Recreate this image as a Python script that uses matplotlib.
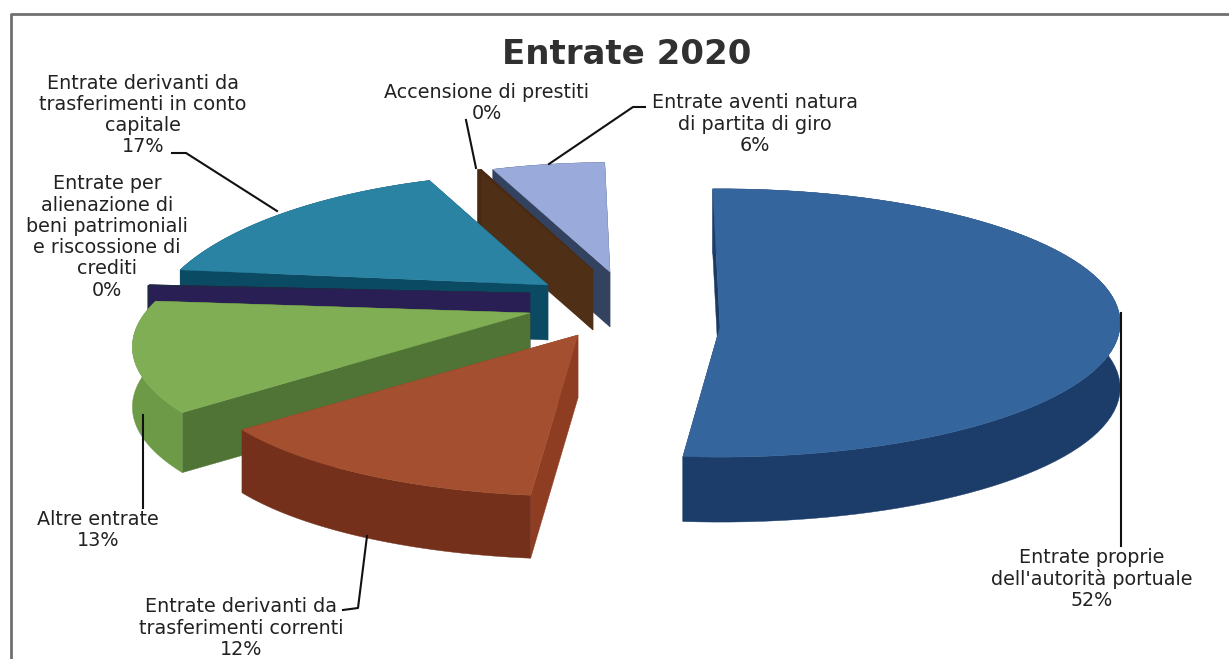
import numpy as np
import matplotlib
matplotlib.use("Agg")
from matplotlib import pyplot as plt

# data, clockwise from the top of the pie
categories = ["Entrate proprie\ndell'autorità portuale",
              "Entrate derivanti da\ntrasferimenti correnti",
              "Altre entrate",
              "Entrate per\nalienazione di\nbeni patrimoniali\ne riscossione di\ncrediti",
              "Entrate derivanti da\ntrasferimenti in conto\ncapitale",
              "Accensione di prestiti",
              "Entrate aventi natura\ndi partita di giro"]
values = [51.8, 12.1, 12.9, 0.2, 16.8, 0.2, 6.0]
percent = ["52%", "12%", "13%", "0%", "17%", "0%", "6%"]

# look of the slices
top_colors = ["#35659d", "#a44f2f", "#7fae54", "#1f2a45", "#2a83a3", "#4a2a12", "#9aabdb"]
rim_colors = ["#1c3d69", "#74301a", "#6d9a47", "#1f2a45", "#0b4a63", "#4a2a12", "#33425f"]
side_colors = ["#1a3a64", "#8f3d22", "#4f7435", "#2a1f55", "#0b4a63", "#4f2f16", "#33425f"]

# 3D look: explode shift from the pie centre, radius, tilt, perspective, thickness
center = (600, 300)
shift_x = [120, -22, -70, -70, -52, -7, 10]
shift_y = [27, 35, 13, -7, -15, -30, -28]
radius = [400, 372, 385, 393, 382, 358, 375]
tilt = [0.335, 0.325, 0.33, 0.2, 0.38, 0.375, 0.365]
persp = [-0.03, 0.25, 0.25, 0.25, 0.3, 0.25, 0.25]
depth = [65, 63, 60, 55, 55, 60, 55]
start_angle = 91


def project(i, deg):
    u = np.cos(np.radians(deg))
    v = np.sin(np.radians(deg))
    w = 1 + persp[i] * v
    x = center[0] + shift_x[i] + radius[i] * u / w
    y = center[1] + shift_y[i] - radius[i] * tilt[i] * v / w
    return x, y


fig = plt.figure(figsize=(12.29, 6.59), dpi=100)
ax = fig.add_axes([0, 0, 1, 1])
ax.set_xlim(0, 1229)
ax.set_ylim(659, 0)
ax.axis("off")
plt.rcParams["font.family"] = ["DejaVu Sans"]

# chart frame, the scan cuts it off on the right
ax.plot([11, 11, 1229], [659, 14, 14], color="#707070", lw=2)

spans = np.array(values) / sum(values) * 360
ends = start_angle - np.cumsum(spans)
starts = ends + spans

# back slices first, so the front ones cover them
for i in reversed(range(len(values))):
    d = depth[i]
    cx = center[0] + shift_x[i]
    cy = center[1] + shift_y[i]
    arc = np.linspace(starts[i], ends[i], 80)
    xs, ys = project(i, arc)

    for k in (-1, 0):
        ax.fill([cx, xs[k], xs[k], cx], [cy, ys[k], ys[k] + d, cy + d],
                color=side_colors[i], lw=0.3, zorder=10 + (6 - i))
    ax.fill(np.r_[xs, xs[::-1]], np.r_[ys, ys[::-1] + d],
            color=rim_colors[i], lw=0.3, zorder=10 + (6 - i))
    ax.fill(np.r_[cx, xs], np.r_[cy, ys], color=top_colors[i], lw=0.3, zorder=10 + (6 - i))

ax.text(627, 55, "Entrate 2020", fontsize=24.5, fontweight="bold", color="#303030",
        ha="center", va="center")

# labels and leader lines
label_x = [1092, 241, 98, 107, 143, 487, 755]
label_y = [579, 628, 530, 237, 115, 103, 124]
for name, pct, x, y in zip(categories, percent, label_x, label_y):
    ax.text(x, y, name + "\n" + pct, fontsize=13.8, color="#222222", ha="center",
            va="center", linespacing=1.15, zorder=30)

leaders = [([1121, 1121], [313, 546]),
           ([367, 358, 343], [536, 608, 610]),
           ([143, 143], [415, 508]),
           ([172, 186, 277], [153, 153, 211]),
           ([466, 476], [120, 168]),
           ([645, 633, 549], [107, 107, 164])]
for lx, ly in leaders:
    ax.plot(lx, ly, color="#111111", lw=1.5, zorder=25)

fig.savefig("out.png", dpi=100)
